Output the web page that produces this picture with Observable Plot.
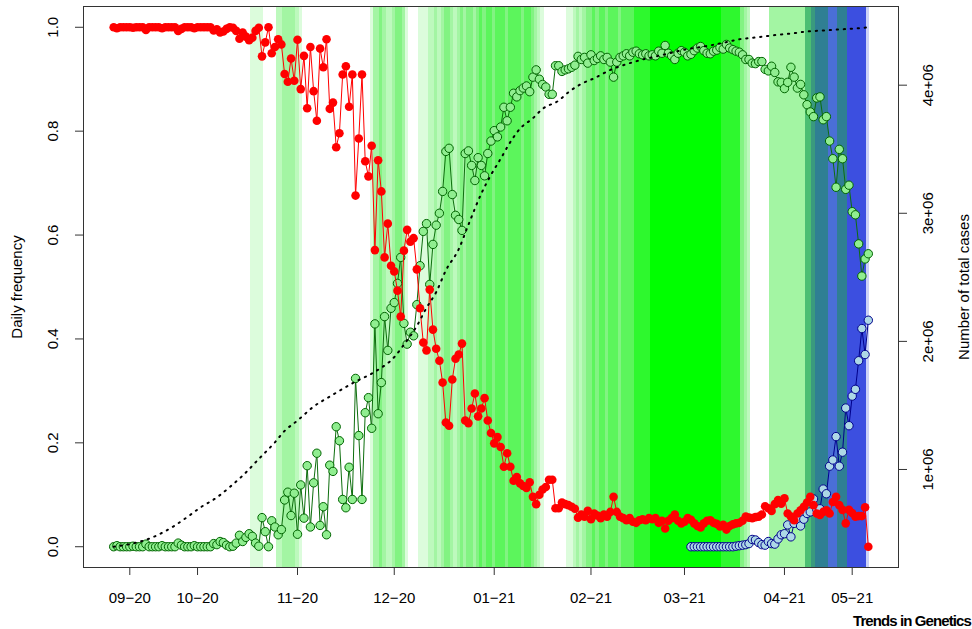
<!DOCTYPE html>
<html>
<head>
<meta charset="utf-8">
<script src="https://cdn.jsdelivr.net/npm/d3@7"></script>
<script src="https://cdn.jsdelivr.net/npm/@observablehq/plot@0.6"></script>
<style>
html, body { margin: 0; padding: 0; background: #fff; overflow: hidden; }
#wrap { position: relative; width: 972px; height: 629px; }
#caption { position: absolute; right: 1px; top: 613px; font: bold 15px "Liberation Sans", Arial, sans-serif; letter-spacing: -0.9px; line-height: 15px; color: #000; white-space: nowrap; }
</style>
</head>
<body>
<div id="wrap"><div id="chart"></div><div id="caption">Trends in Genetics</div></div>
<script>
// Daily frequency of other lineages (red), day index 0..234
const otherFreq = [
1,0.998,1,1,1,1,0.999,1,1,1,
0.995,1,1,1,1,0.998,1,1,1,1,
0.993,0.997,1,1,1,0.998,1,1,1,1,
1,0.994,0.996,0.99,0.992,0.997,1,0.999,0.993,
0.978,0.99,0.982,0.975,0.98,0.993,0.999,0.944,0.971,1,0.95,
0.962,0.977,0.967,0.91,0.895,0.94,0.897,0.976,0.881,0.945,
0.844,0.962,0.877,0.82,0.959,0.923,0.977,0.843,0.855,0.769,
0.796,0.909,0.925,0.847,0.909,0.676,0.786,0.909,0.742,0.713,
0.772,0.571,0.744,0.684,0.557,0.622,0.541,0.53,0.493,0.443,
0.57,0.61,0.587,0.594,0.534,0.459,0.393,0.378,0.495,0.418,
0.381,0.358,0.316,0.239,0.233,0.322,0.362,0.37,0.391,0.243,
0.238,0.266,0.295,0.251,0.266,0.286,0.243,0.219,0.199,0.211,
0.192,0.154,0.18,0.154,0.127,0.134,0.122,0.117,0.113,0.124,
0.096,0.082,0.1,0.11,0.115,0.129,0.129,0.074,0.074,
0.085,0.082,0.08,0.077,0.073,0.056,0.062,0.058,0.069,0.053,0.064,
0.06,0.055,0.062,0.058,0.067,0.096,0.067,0.058,0.055,0.051,
0.055,0.048,0.046,0.051,0.053,0.051,0.055,0.053,0.055,0.046,
0.05,0.035,0.05,0.055,0.062,0.05,0.045,0.048,0.055,0.052,
0.045,0.04,0.037,0.045,0.05,0.051,0.046,0.044,0.039,0.042,
0.033,0.04,0.043,0.045,0.046,0.05,0.058,0.056,0.055,0.057,
0.058,0.062,0.078,0.074,0.069,0.082,0.09,0.083,0.093,0.064,
0.058,0.051,0.064,0.07,0.077,0.085,0.096,0.08,0.064,0.061,
0.067,0.07,0.064,0.086,0.096,0.08,0.071,0.045,0.071,0.065,
0.058,0.059,0.059,0.076,0
];

// Daily frequency of B.1.1.7 (green), day index 0..234
const alphaFreq = [
0,0.002,0,0,0,0,0.001,0,0,0,
0.005,0,0,0,0,0.002,0,0,0,0,
0.007,0.003,0,0,0,0.002,0,0,0,0,
0,0.006,0.004,0.01,0.008,0.003,0,0.001,0.007,
0.022,0.01,0.018,0.025,0.02,0.007,0.001,0.056,0.029,0,0.05,
0.038,0.023,0.033,0.09,0.105,0.06,0.103,0.024,0.119,0.055,
0.156,0.038,0.123,0.18,0.041,0.077,0.023,0.157,0.145,0.231,
0.204,0.091,0.075,0.153,0.091,0.324,0.214,0.091,0.258,0.287,
0.228,0.429,0.256,0.316,0.443,0.378,0.459,0.47,0.507,0.557,
0.43,0.39,0.413,0.406,0.466,0.541,0.607,0.622,0.505,0.582,
0.619,0.642,0.684,0.761,0.767,0.678,0.638,0.63,0.609,0.757,
0.762,0.734,0.705,0.749,0.734,0.714,0.757,0.781,0.801,0.789,
0.808,0.846,0.82,0.846,0.873,0.866,0.878,0.883,0.887,0.876,
0.904,0.918,0.9,0.89,0.885,0.871,0.871,0.926,0.926,
0.915,0.918,0.92,0.923,0.927,0.944,0.938,0.942,0.931,0.947,0.936,
0.94,0.945,0.938,0.942,0.933,0.904,0.933,0.942,0.945,0.949,
0.945,0.952,0.954,0.949,0.947,0.949,0.945,0.947,0.945,0.954,
0.95,0.965,0.95,0.945,0.938,0.95,0.955,0.952,0.945,0.948,
0.955,0.96,0.963,0.955,0.95,0.949,0.954,0.956,0.961,0.958,
0.967,0.96,0.957,0.954,0.952,0.947,0.938,0.938,0.931,0.93,
0.934,0.934,0.919,0.916,0.925,0.913,0.895,0.894,0.882,0.894,
0.923,0.904,0.883,0.89,0.87,0.851,0.837,0.828,0.864,0.866,
0.822,0.828,0.781,0.747,0.692,0.765,0.747,0.688,0.696,0.645,
0.639,0.583,0.521,0.554,0.564
];

// Daily frequency of B.1.617.2 (blue), starting at day 179
const deltaStartDay = 179;
const deltaFreq = [
0,0,0,0,0,0,0,0,0,0,0,0,0,0,
0.001,0.002,0.003,0.004,0.006,0.014,0.013,0.008,0.004,0.003,0.01,0.006,0.005,
0.015,0.023,0.025,0.042,0.019,0.045,0.053,0.04,0.053,0.064,
0.067,0.092,0.072,0.073,0.111,0.102,0.155,0.167,0.212,0.155,
0.182,0.267,0.233,0.29,0.303,0.358,0.42,0.37,0.436
];

// Cumulative number of cases (dotted line, right axis)
const cumDays = [0,5,12,19,23,27,32,36,40,45,50,53,57,62,67,75,81,87,90,94,97,100,103,107,110,114,117,120,123,126,130,133,138,141,145,149,154,159,164,171,177,184,189,194,200,205,210,215,220,225,232,234];
const cumCases = [397000,417000,470000,563000,632000,705000,782000,863000,952000,1082000,1212000,1301000,1382000,1491000,1569000,1686000,1763000,1877000,1974000,2120000,2262000,2384000,2554000,2720000,2911000,3154000,3300000,3426000,3556000,3661000,3742000,3815000,3880000,3945000,4010000,4054000,4119000,4164000,4200000,4241000,4277000,4306000,4330000,4358000,4375000,4391000,4403000,4419000,4427000,4435000,4447000,4452000];

// Background shading level per day (0 = none; 1-7 green intensity; 8-13 teal/blue)
const bandLevels = [
0,0,0,0,0,0,0,0,0,0,0,0,0,0,0,0,0,0,0,0,0,0,0,0,0,0,0,0,0,0,0,0,0,0,0,0,0,0,0,0,0,0,0,
1,1,1,1,
0,0,0,0,
2,2,3,3,3,3,2,1,
0,0,0,0,0,0,0,0,0,0,0,0,0,0,0,0,0,0,0,0,0,
1,3,3,4,3,2,2,3,4,4,3,1,
0,0,0,
1,1,1,2,2,3,2,3,4,4,3,2,3,4,3,4,4,3,4,5,4,5,5,4,5,5,5,4,5,5,5,5,4,5,5,4,3,2,1,
0,0,0,0,0,0,0,
1,1,2,3,2,3,4,4,5,4,5,5,4,5,5,5,4,5,5,5,5,6,6,6,6,6,
7,7,7,7,7,7,7,7,7,7,7,7,7,7,7,7,7,7,7,7,7,7,
6,6,6,6,6,6,4,3,2,
0,0,0,0,0,0,
3,3,3,3,3,3,3,3,3,3,3,
8,8,9,10,10,10,10,11,11,11,10,10,10,12,12,12,12,12,12,13
];

const xTickDays = [5, 26, 57, 87, 118, 148, 177, 208, 229];
const xTickLabels = ["09\u221220", "10\u221220", "11\u221220", "12\u221220", "01\u221221", "02\u221221", "03\u221221", "04\u221221", "05\u221221"];
const yTicks = [0, 0.2, 0.4, 0.6, 0.8, 1.0];
const yTickLabels = ["0.0", "0.2", "0.4", "0.6", "0.8", "1.0"];
const caseTicks = [1e6, 2e6, 3e6, 4e6];
const caseTickLabels = ["1e+06", "2e+06", "3e+06", "4e+06"];

const rows = otherFreq.map((v, i) => ({day: i, other: v, alpha: alphaFreq[i]}));
const deltaRows = deltaFreq.map((v, i) => ({day: deltaStartDay + i, delta: v}));
const bands = bandLevels.map((lvl, i) => ({day: i, level: lvl})).filter(d => d.level > 0);
const cMin = d3.min(cumCases), cMax = d3.max(cumCases);
const toFrac = c => (c - cMin) / (cMax - cMin);
const cumRows = cumDays.map((d, i) => ({day: d, frac: toFrac(cumCases[i])}));
const caseTickPos = caseTicks.map(toFrac);

const n = otherFreq.length - 1;
const pad = n * 0.04;

const chart = Plot.plot({
  width: 972,
  height: 629,
  marginLeft: 83,
  marginRight: 74,
  marginTop: 6,
  marginBottom: 62,
  x: {domain: [-pad, n + pad], axis: null, label: null},
  y: {domain: [-0.04, 1.04], axis: null, label: null},
  color: {
    type: "ordinal",
    domain: d3.range(1, 14),
    range: ["#dcfcdc", "#bdf9bd", "#a3f5a3", "#82f382", "#5cf55c", "#2ef82e", "#00ff00",
            "#4cbf73", "#3a9a7e", "#2f7f93", "#4a6fd6", "#3c4fe0", "#ccd3f7"]
  },
  style: {fontFamily: '"Liberation Sans", Arial, sans-serif', fontSize: "15px", background: "white", color: "black"},
  marks: [
    Plot.rect(bands, {x1: d => d.day - 0.5, x2: d => d.day + 0.5, fill: "level", shapeRendering: "crispEdges"}),
    Plot.line(rows, {x: "day", y: "alpha", stroke: "#0d6e0d", strokeWidth: 1}),
    Plot.dot(rows, {x: "day", y: "alpha", r: 4.2, fill: "#90ee90", stroke: "#006400", strokeWidth: 1}),
    Plot.line(deltaRows, {x: "day", y: "delta", stroke: "#00008b", strokeWidth: 1}),
    Plot.dot(deltaRows, {x: "day", y: "delta", r: 4.2, fill: "#add8e6", stroke: "#00008b", strokeWidth: 1}),
    Plot.line(rows, {x: "day", y: "other", stroke: "#ff0000", strokeWidth: 1}),
    Plot.dot(rows, {x: "day", y: "other", r: 4.3, fill: "#ff0000"}),
    Plot.line(cumRows, {x: "day", y: "frac", curve: "monotone-x", stroke: "black", strokeWidth: 2, strokeDasharray: "1.3,5.7"}),
    Plot.frame({stroke: "#333", strokeWidth: 1}),
    Plot.axisX(xTickDays, {anchor: "bottom", tickSize: 8, tickFormat: () => "", label: null, stroke: "#333"}),
    Plot.axisY(yTicks, {anchor: "left", tickSize: 8, tickFormat: () => "", label: null, stroke: "#333"}),
    Plot.axisY(caseTickPos, {anchor: "right", tickSize: 8, tickFormat: () => "", label: null, stroke: "#333"}),
    Plot.text(xTickDays, {x: d => d, text: (d, i) => xTickLabels[i], frameAnchor: "bottom", dy: 31, lineAnchor: "middle", fill: "black"}),
    Plot.text(yTicks, {y: d => d, text: (d, i) => yTickLabels[i], frameAnchor: "left", dx: -30, rotate: -90, textAnchor: "middle", lineAnchor: "middle", fill: "black"}),
    Plot.text(caseTickPos, {y: d => d, text: (d, i) => caseTickLabels[i], frameAnchor: "right", dx: 30, rotate: -90, textAnchor: "middle", lineAnchor: "middle", fill: "black"}),
    Plot.text(["Daily frequency"], {frameAnchor: "left", dx: -66, rotate: -90, textAnchor: "middle", lineAnchor: "middle", fill: "black"}),
    Plot.text(["Number of total cases"], {frameAnchor: "right", dx: 66, rotate: -90, textAnchor: "middle", lineAnchor: "middle", fill: "black"})
  ]
});
document.getElementById("chart").appendChild(chart);
</script>
</body>
</html>
